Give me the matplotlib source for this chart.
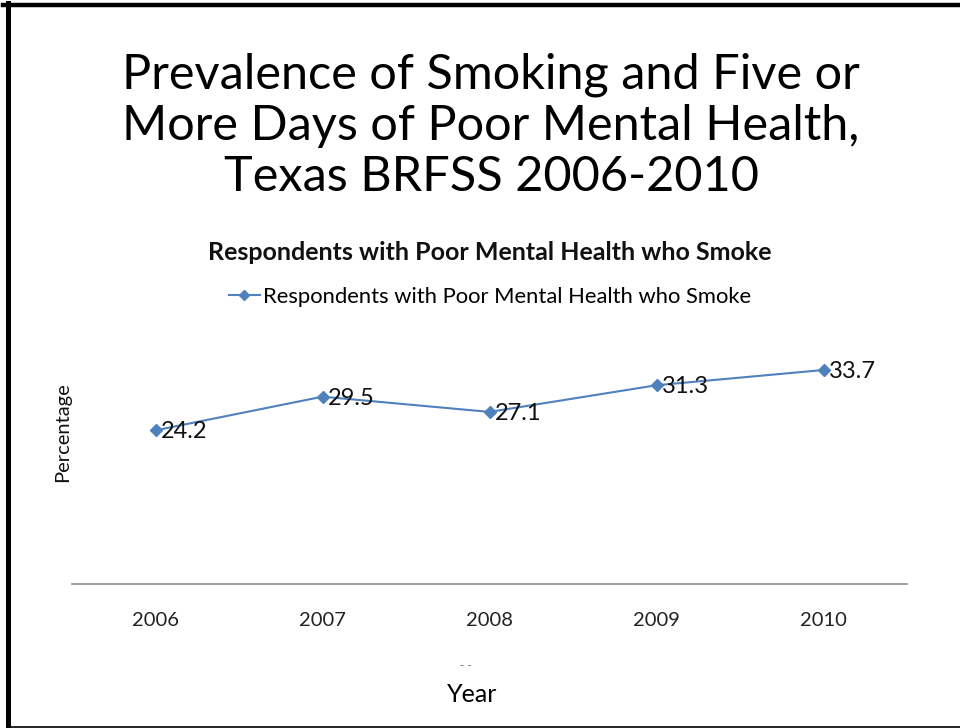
import numpy as np
import matplotlib
matplotlib.use("Agg")
import matplotlib.pyplot as plt
from matplotlib.lines import Line2D

## Data
years = ["2006", "2007", "2008", "2009", "2010"]
smoke_pct = [24.2, 29.5, 27.1, 31.3, 33.7]

title = "Prevalence of Smoking and Five or\nMore Days of Poor Mental Health,\nTexas BRFSS 2006-2010"
subtitle = "Respondents with Poor Mental Health who Smoke"
series_name = "Respondents with Poor Mental Health who Smoke"

W, H = 960, 728
blue = "#4F81BD"
font = "Lato"

def fx(px):
    return px / W

def fy(py):
    return 1 - py / H

fig = plt.figure(figsize=(W / 100, H / 100), dpi=100)

# plot area
ax = fig.add_axes([fx(72), fy(584), (907 - 72) / W, (584 - 330) / H])
x = np.arange(len(years))
ax.plot(x, smoke_pct, color=blue, lw=1.5, marker="D", ms=6, mfc=blue, mec=blue)
for xi, v in zip(x, smoke_pct):
    ax.annotate(f"{v}", (xi, v), xytext=(4, -1), textcoords="offset points",
                ha="left", va="center", fontsize=17, family=font, color="#111111")
ax.set_xlim(-0.5, len(years) - 0.5)
ax.set_ylim(0, 40)
ax.set_yticks([])
ax.set_xticks(x)
ax.set_xticklabels(years, fontsize=14.5, family=font, color="#222222")
ax.tick_params(axis="x", length=0, pad=20)
for s in ["top", "left", "right"]:
    ax.spines[s].set_visible(False)
ax.spines["bottom"].set_color("#8c8c8c")
ax.spines["bottom"].set_linewidth(1.2)

# titles and labels
fig.text(fx(491), fy(126), title, ha="center", va="center", fontsize=35,
         family=font, linespacing=1.2, color="black")
fig.text(fx(490), fy(253), subtitle, ha="center", va="center", fontsize=18,
         family=font, weight="bold", color="#111111")
fig.text(fx(63), fy(432), "Percentage", rotation=90, ha="center", va="center",
         fontsize=14.5, family=font, color="#111111")
fig.text(fx(466), fy(665), "- -", ha="center", va="center", fontsize=8,
         family="DejaVu Sans", color="#666666")
fig.text(fx(472), fy(695), "Year", ha="center", va="center", fontsize=18,
         family=font, color="black")

# legend
leg_handle = Line2D([], [], color=blue, lw=1.5, marker="D", ms=5)
fig.legend([leg_handle], [series_name], loc="center", bbox_to_anchor=(fx(490), fy(297)),
           frameon=False, prop={"family": font, "size": 15.8}, handlelength=1.4,
           handletextpad=0.15, borderpad=0)

# frame around the picture: thick top and left, thin bottom
fig.add_artist(Line2D([fx(3), fx(960)], [fy(5), fy(5)], color="black", lw=3.2))
fig.add_artist(Line2D([fx(8), fx(8)], [fy(3), fy(727)], color="black", lw=3.6))
fig.add_artist(Line2D([fx(8), fx(960)], [fy(727), fy(727)], color="black", lw=1.2))

fig.savefig("out.png", dpi=100)
